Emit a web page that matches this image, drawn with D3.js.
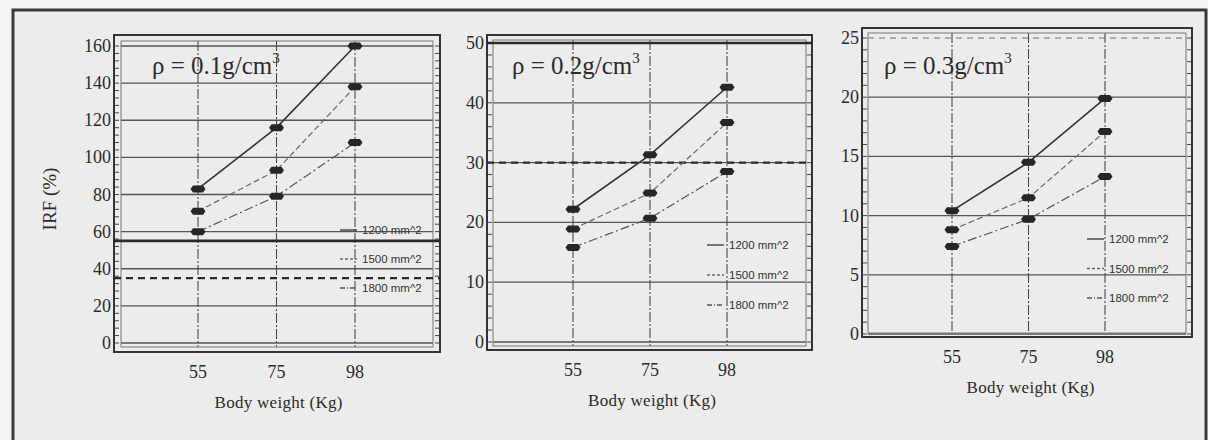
<!DOCTYPE html>
<html>
<head>
<meta charset="utf-8">
<script src="https://cdn.jsdelivr.net/npm/d3@7"></script>
<style>
  body { margin: 0; background: #f3f3f3; }
  svg { display: block; }
  text { font-family: "Liberation Serif", "Times New Roman", serif; fill: #2b2b2b; }
  .leg { font-family: "Liberation Sans", Arial, sans-serif; font-size: 11.5px; fill: #333; }
</style>
</head>
<body>
<div id="fig"></div>
<script>
// values
let weights = ["55", "75", "98"];
let areas = ["1200 mm^2", "1500 mm^2", "1800 mm^2"];
let densities = ["0.1", "0.2", "0.3"];

let irf01 = [[83, 116, 160], [71, 93, 138], [60, 79, 108]];
let irf02 = [[22.2, 31.3, 42.6], [18.9, 24.9, 36.7], [15.8, 20.7, 28.5]];
let irf03 = [[10.4, 14.5, 19.9], [8.8, 11.5, 17.1], [7.4, 9.7, 13.3]];

let yTicks01 = [0, 20, 40, 60, 80, 100, 120, 140, 160];
let yTicks02 = [0, 10, 20, 30, 40, 50];
let yTicks03 = [0, 5, 10, 15, 20, 25];

let refSolid = [55, 50, null];
let refDashed = [35, 30, null];

let width = 1208;
let height = 440;

// layout of each panel
let panels = [
  { data: irf01, ticks: yTicks01, minor: 4, box: [114, 35, 440, 352], inner: 7, y0: 343, y1: 46,
    xr: [198, 355], leg: { x: 340, y: 230, dy: 29 }, title: 152, ylab: true },
  { data: irf02, ticks: yTicks02, minor: 4, box: [487, 35, 812, 350], inner: 6, y0: 342, y1: 43,
    xr: [573, 727], leg: { x: 707, y: 245, dy: 30 }, title: 512 },
  { data: irf03, ticks: yTicks03, minor: 4, box: [862, 28, 1192, 337], inner: 6, y0: 334, y1: 38,
    xr: [952, 1105], leg: { x: 1087, y: 239, dy: 29.5 }, title: 884 }
];

let dash = ["none", "6,3", "9,3,2,3"];
let lineCol = ["#333", "#6a6a6a", "#555"];

let svg = d3.select("#fig").append("svg")
  .attr("width", width)
  .attr("height", height);

// scanned page frame
svg.append("rect").attr("x", 13).attr("y", 10).attr("width", 1193).attr("height", 440)
  .attr("fill", "#ececec").attr("stroke", "#3a3a3a").attr("stroke-width", 3);

panels.forEach((p, i) => {
  let [l, t, r, b] = p.box;
  let g = svg.append("g");

  let x = d3.scalePoint().domain(weights).range(p.xr);
  let y = d3.scaleLinear().domain([0, d3.max(p.ticks)]).range([p.y0, p.y1]);

  let il = l + p.inner, ir = r - p.inner, it = t + p.inner - 1, ib = b - p.inner + 2;

  // horizontal grid
  g.selectAll(".hg").data(p.ticks).enter().append("line")
    .attr("x1", il).attr("x2", ir)
    .attr("y1", d => y(d)).attr("y2", d => y(d))
    .attr("stroke", (d) => (i == 2 && d == 25) ? "#999" : "#555").attr("stroke-width", 1.3)
    .attr("stroke-dasharray", (d) => (i == 2 && d == 25) ? "6,5" : null);

  // vertical grid
  g.selectAll(".vg").data(weights).enter().append("line")
    .attr("x1", d => x(d)).attr("x2", d => x(d))
    .attr("y1", it).attr("y2", ib)
    .attr("stroke", "#4a4a4a").attr("stroke-width", 1.1)
    .attr("stroke-dasharray", "10,2,2,2");

  // inner frame
  g.append("rect").attr("x", il).attr("y", it).attr("width", ir - il).attr("height", ib - it)
    .attr("fill", "none").attr("stroke", "#777").attr("stroke-width", 1);

  // minor ticks on both sides
  let step = p.ticks[1] - p.ticks[0];
  let minors = d3.range(0, d3.max(p.ticks) + 0.001, step / (p.minor + 1));
  [l, r].forEach((ex, k) => {
    g.selectAll(".mt" + k).data(minors).enter().append("line")
      .attr("x1", ex).attr("x2", ex + (k == 0 ? 5 : -5))
      .attr("y1", d => y(d)).attr("y2", d => y(d))
      .attr("stroke", "#444").attr("stroke-width", 1);
  });

  // outer frame
  g.append("rect").attr("x", l).attr("y", t).attr("width", r - l).attr("height", b - t)
    .attr("fill", "none").attr("stroke", "#333").attr("stroke-width", 2);

  // y tick labels
  g.selectAll(".yl").data(p.ticks).enter().append("text")
    .attr("x", l - 3).attr("y", d => y(d) + 6)
    .attr("text-anchor", "end")
    .style("font-size", "18px")
    .text(d => d);

  // x tick labels
  g.selectAll(".xl").data(weights).enter().append("text")
    .attr("x", d => x(d)).attr("y", b + 26)
    .attr("text-anchor", "middle")
    .style("font-size", "18px")
    .text(d => d);

  g.append("text")
    .attr("x", (p.xr[0] + p.xr[1]) / 2 + 2).attr("y", b + 56)
    .attr("text-anchor", "middle")
    .style("font-size", "17px")
    .attr("textLength", 128)
    .text("Body weight (Kg)");

  if (p.ylab) {
    svg.append("text")
      .attr("transform", "translate(56," + 199 + ") rotate(-90)")
      .attr("text-anchor", "middle")
      .style("font-size", "19px")
      .text("IRF (%)");
  }

  // reference lines
  if (refSolid[i] != null) {
    g.append("line").attr("x1", l).attr("x2", r)
      .attr("y1", y(refSolid[i])).attr("y2", y(refSolid[i]))
      .attr("stroke", "#2a2a2a").attr("stroke-width", 2.6);
  }
  if (refDashed[i] != null) {
    g.append("line").attr("x1", l).attr("x2", r)
      .attr("y1", y(refDashed[i])).attr("y2", y(refDashed[i]))
      .attr("stroke", "#2a2a2a").attr("stroke-width", 2.2)
      .attr("stroke-dasharray", "7,5");
  }

  // series lines
  let line = d3.line().x((d, j) => x(weights[j])).y(d => y(d));
  g.selectAll(".ser").data(p.data).enter().append("path")
    .attr("d", d => line(d))
    .attr("fill", "none")
    .attr("stroke", (d, k) => lineCol[k])
    .attr("stroke-width", (d, k) => k == 0 ? 1.6 : 1.2)
    .attr("stroke-dasharray", (d, k) => dash[k]);

  // markers: flat hexagon bars
  let hex = "M-7.5,0 L-5,-3.5 L5,-3.5 L7.5,0 L5,3.5 L-5,3.5 Z";
  p.data.forEach((s) => {
    g.selectAll(null).data(s).enter().append("path")
      .attr("d", hex)
      .attr("transform", (d, j) => "translate(" + x(weights[j]) + "," + y(d) + ")")
      .attr("fill", "#262626");
  });

  // legend
  areas.forEach((a, k) => {
    let ly = p.leg.y + k * p.leg.dy;
    g.append("line").attr("x1", p.leg.x).attr("x2", p.leg.x + 17)
      .attr("y1", ly).attr("y2", ly)
      .attr("stroke", lineCol[k]).attr("stroke-width", 1.3)
      .attr("stroke-dasharray", k == 0 ? null : (k == 1 ? "3,2" : "5,2,1,2"));
    g.append("text").attr("class", "leg")
      .attr("x", p.leg.x + 22).attr("y", ly + 4)
      .text(a);
  });

  // density label
  let tt = g.append("text")
    .attr("x", p.title).attr("y", 74)
    .style("font-size", "25px");
  tt.append("tspan").text("\u03c1 = " + densities[i] + "g/cm");
  tt.append("tspan").attr("dy", -11).style("font-size", "15px").text("3");
});
</script>
</body>
</html>
